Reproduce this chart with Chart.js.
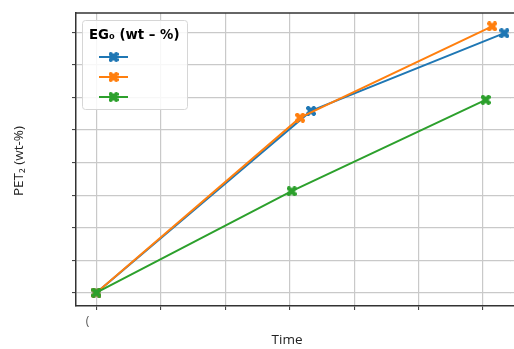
<!DOCTYPE html>
<html>
<head>
<meta charset="utf-8">
<script src="https://cdn.jsdelivr.net/npm/chart.js@4/dist/chart.umd.min.js"></script>
<style>
  html, body { margin: 0; padding: 0; background: #fff; overflow: hidden; }
  #c { display: block; }
</style>
</head>
<body>
<canvas id="c" width="514" height="349"></canvas>
<script>
// Time values and PET2 content per starting EG0 level
const timeBlue   = [0, 3.33, 6.33];
const petBlue    = [0, 5.59, 7.98];
const timeOrange = [0, 3.16, 6.14];
const petOrange  = [0, 5.38, 8.19];
const timeGreen  = [0, 3.03, 6.04];
const petGreen   = [0, 3.12, 5.93];

const xTickValues = [0, 1, 2, 3, 4, 5, 6];
const xTickLabels = ['(', '', '', '', '', '', ''];
const yTickValues = [0, 1, 2, 3, 4, 5, 6, 7, 8];

const legendTitle = 'EG\u2080 (wt \u2013 %)';
const xTitle = 'Time';
const yTitle = 'PET\u2082 (wt-%)';

const colors = ['#1f77b4', '#ff7f0e', '#2ca02c'];
const gridColor = '#c9c9c9';
const gridWidth = 1.2;

// filled "X" marker drawn on a small offscreen canvas
function xMarker(color, size) {
  const c = document.createElement('canvas');
  c.width = size; c.height = size;
  const g = c.getContext('2d');
  const s = size / 2, w = size * 0.21;
  g.translate(s, s);
  g.rotate(Math.PI / 4);
  g.fillStyle = color;
  g.fillRect(-s * 1.2, -w, s * 2.4, w * 2);
  g.fillRect(-w, -s * 1.2, w * 2, s * 2.4);
  return c;
}
const markers = colors.map(c => xMarker(c, 10));

function pts(xs, ys) { return xs.map((x, i) => ({ x: x, y: ys[i] })); }

// same pixel snapping Chart.js uses for grid lines
function alignPixel(p, w) { const h = w / 2; return Math.round(p - h) + h; }

const framePlugin = {
  id: 'frame',
  afterDraw(chart) {
    const ctx = chart.ctx, a = chart.chartArea, yScale = chart.scales.y;
    ctx.save();

    // plot runs off the right edge: keep that edge open, grid lines only
    ctx.fillStyle = '#fff';
    ctx.fillRect(a.right - 3, a.top + 1, 3, a.bottom - a.top - 2);
    ctx.strokeStyle = gridColor;
    ctx.lineWidth = gridWidth;
    yTickValues.forEach(v => {
      const py = alignPixel(yScale.getPixelForValue(v), gridWidth);
      ctx.beginPath();
      ctx.moveTo(a.right - 4, py);
      ctx.lineTo(a.right, py);
      ctx.stroke();
    });

    // top spine
    ctx.strokeStyle = '#333';
    ctx.lineWidth = 1.5;
    ctx.beginPath();
    ctx.moveTo(a.left, a.top);
    ctx.lineTo(a.right, a.top);
    ctx.stroke();

    // legend box
    const bx = 82.5, by = 20.5, bw = 105, bh = 89, r = 3;
    ctx.fillStyle = 'rgba(255,255,255,0.85)';
    ctx.strokeStyle = '#d6d6d6';
    ctx.lineWidth = 1;
    ctx.beginPath();
    ctx.roundRect(bx, by, bw, bh, r);
    ctx.fill();
    ctx.stroke();

    ctx.fillStyle = '#000';
    ctx.font = 'bold 13.3px "DejaVu Sans"';
    ctx.textBaseline = 'middle';
    ctx.textAlign = 'left';
    ctx.fillText(legendTitle, 89, 36);

    const rows = [57, 77, 97];
    rows.forEach((y, i) => {
      ctx.strokeStyle = colors[i];
      ctx.lineWidth = 2;
      ctx.beginPath();
      ctx.moveTo(99, y);
      ctx.lineTo(128, y);
      ctx.stroke();
      ctx.drawImage(markers[i], 113.5 - 5, y - 5);
    });

    // axis titles
    ctx.fillStyle = '#222';
    ctx.font = '13.5px "Open Sans"';
    ctx.textAlign = 'center';
    ctx.fillText(xTitle, 287, 340);
    ctx.translate(19, 161);
    ctx.rotate(-Math.PI / 2);
    ctx.fillText(yTitle, 0, 0);
    ctx.restore();
  }
};

const commonGrid = { color: gridColor, lineWidth: gridWidth, tickColor: '#333', tickLength: 4, tickWidth: 1 };

new Chart(document.getElementById('c'), {
  type: 'line',
  data: {
    datasets: [
      { data: pts(timeBlue, petBlue), borderColor: colors[0], pointStyle: markers[0], order: 2 },
      { data: pts(timeOrange, petOrange), borderColor: colors[1], pointStyle: markers[1], order: 1 },
      { data: pts(timeGreen, petGreen), borderColor: colors[2], pointStyle: markers[2], order: 0 }
    ].map(d => Object.assign(d, { borderWidth: 2, tension: 0, fill: false }))
  },
  options: {
    responsive: false,
    animation: false,
    layout: { autoPadding: false, padding: { top: 13, right: 0, left: 0, bottom: 0 } },
    plugins: { legend: { display: false }, tooltip: { enabled: false } },
    scales: {
      x: {
        type: 'linear',
        min: -0.3165, max: 6.48,
        afterBuildTicks: s => { s.ticks = xTickValues.map(v => ({ value: v })); },
        afterFit: s => { s.height = 43; },
        ticks: {
          callback: (v, i) => xTickLabels[i],
          color: '#555',
          font: { family: 'Open Sans', size: 12 },
          labelOffset: -9,
          padding: 4,
          autoSkip: false, maxRotation: 0
        },
        grid: commonGrid,
        border: { color: '#333', width: 1.5 }
      },
      y: {
        type: 'linear',
        min: -0.41, max: 8.6,
        afterBuildTicks: s => { s.ticks = yTickValues.map(v => ({ value: v })); },
        afterFit: s => { s.width = 76; },
        ticks: { callback: () => '' },
        grid: commonGrid,
        border: { color: '#333', width: 1.5 }
      }
    }
  },
  plugins: [framePlugin]
});
</script>
</body>
</html>
